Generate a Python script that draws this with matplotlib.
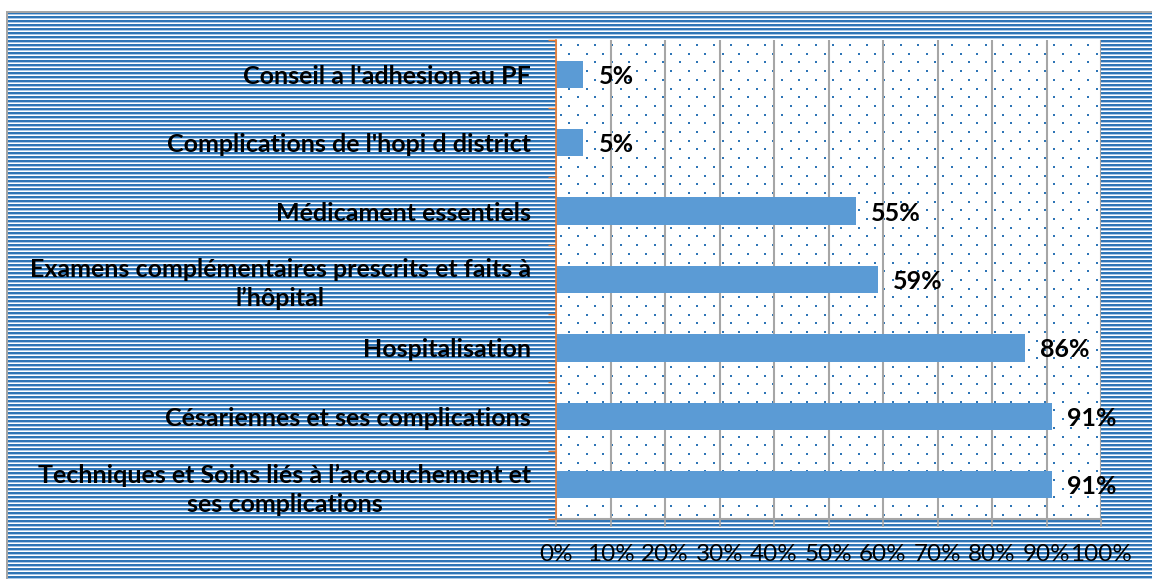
import numpy as np
import matplotlib
matplotlib.use("Agg")
import matplotlib.pyplot as plt

# données
categories = [
    "Techniques et Soins liés à l’accouchement et\nses complications",
    "Césariennes et ses complications",
    "Hospitalisation",
    "Examens complémentaires prescrits et faits à\nl’hôpital",
    "Médicament essentiels",
    "Complications de l'hopi d district",
    "Conseil a l'adhesion au PF",
]
values = [91, 91, 86, 59, 55, 5, 5]
xticks = [0, 10, 20, 30, 40, 50, 60, 70, 80, 90, 100]
xtick_labels = [f"{t}%" for t in xticks]

W, H = 1152, 579
DPI = 100
# zone du graphique en pixels
L, R, T, B = 556, 1101, 40, 519

plt.rcParams['font.family'] = ['Lato', 'DejaVu Sans']

fig = plt.figure(figsize=(W / DPI, H / DPI), dpi=DPI)

# fond : rayures horizontales bleues + zone pointillée
img = np.ones((H, W, 3))
dark = np.array([0x2E, 0x75, 0xB6]) / 255
light = np.array([0xA9, 0xC8, 0xE8]) / 255
for y in range(12, H):
    k = (y - 12) % 4
    if k in (0, 1):
        img[y, 7:] = dark
    elif k == 2:
        img[y, 7:] = light
img[11:13, 6:] = 0.65
img[11:, 6:8] = 0.65
img[T:B, L:R] = 1.0
dotc = np.array([0x2E, 0x75, 0xB6]) / 255
for j, y in enumerate(np.arange(T + 4, B, 8.7)):
    off = 0 if j % 2 == 0 else 8.5
    for x in np.arange(L + 4 + off, R, 17):
        yi, xi = int(round(y)), int(round(x))
        img[yi:yi + 2, xi:xi + 2] = dotc
fig.figimage(img, 0, 0, origin='upper', zorder=0)
fig.patch.set_alpha(0)

ax = fig.add_axes([L / W, 1 - B / H, (R - L) / W, (B - T) / H])
ax.set_facecolor('none')
ax.set_zorder(2)

pos = np.arange(len(categories))
ax.barh(pos, values, height=0.4, color='#5B9BD5', zorder=3)
for p, v in zip(pos, values):
    ax.text(v + 2.8, p - 0.03, f"{v}%", va='center', ha='left',
            fontsize=18, fontweight='bold', color='black', zorder=4)

ax.set_xlim(0, 100)
ax.set_ylim(-0.5, len(categories) - 0.5)
ax.set_xticks(xticks)
ax.set_xticklabels(xtick_labels, fontsize=17.5)
ax.set_yticks(pos)
ax.set_yticklabels(categories, fontsize=18, fontweight='bold',
                   multialignment='center', linespacing=1.3)
ax.set_yticks(np.arange(-0.5, len(categories)), minor=True)
ax.tick_params(axis='y', which='major', length=0, pad=18)
ax.tick_params(axis='y', which='minor', length=6, color='#ED7D31', width=1)
ax.tick_params(axis='x', length=6, color='#A6A6A6', width=1.2, pad=12)

ax.grid(axis='x', color='#A6A6A6', linewidth=1.5, zorder=1)
ax.set_axisbelow(True)
for s in ['top', 'right']:
    ax.spines[s].set_visible(False)
ax.spines['left'].set_color('#ED7D31')
ax.spines['left'].set_linewidth(1.2)
ax.spines['left'].set_zorder(5)
ax.spines['bottom'].set_color('#A6A6A6')
ax.spines['bottom'].set_linewidth(1.5)

fig.savefig("out.png", dpi=DPI)
